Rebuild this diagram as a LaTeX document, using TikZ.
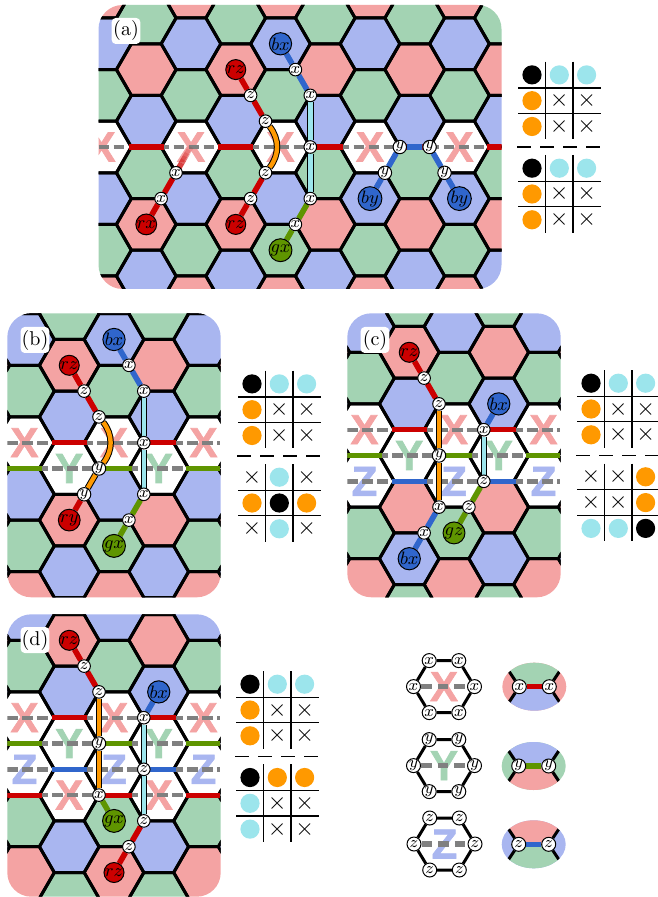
\documentclass[tikz,border=0pt]{standalone}
\usepackage{xcolor}
\usepackage{fontspec}
\newfontfamily\letterfont[BoldFeatures={FakeBold=1.5}]{Liberation Sans}
\usetikzlibrary{calc}
\definecolor{hexc0}{HTML}{F4A3A3}
\definecolor{hexc1}{HTML}{A9B6F0}
\definecolor{hexc2}{HTML}{A3D3B3}
\definecolor{strred}{HTML}{CC0000}
\definecolor{strgreen}{HTML}{5F9500}
\definecolor{strblue}{HTML}{3066CC}
\definecolor{strorange}{HTML}{FF9900}
\definecolor{strcyan}{HTML}{9CE5EC}
\definecolor{rowgray}{HTML}{808080}
\pgfdeclarelayer{lattice}
\pgfdeclarelayer{strings}
\pgfsetlayers{lattice,strings,main}
\tikzset{
  hexedge/.style={draw=black,line width=1.5pt,line join=round},
  rowdash/.style={rowgray,line width=2.2pt,dash pattern=on 5.2pt off 2.3pt},
  stripe/.style={line width=2.6pt},
  plainstr/.style={line width=2.8pt},
  twostr/.style={draw=black,line width=.5pt,double distance=2.2pt},
  site/.style={circle,draw=black,line width=.5pt,fill=white,inner sep=0pt,minimum size=6.3pt,font=\footnotesize},
  bigsite/.style={circle,draw=black,line width=.5pt,inner sep=0pt,minimum size=10pt,font=\fontsize{8.8}{8.8}\selectfont},
  legendsite/.style={site,minimum size=7pt},
  hexletter/.style={inner sep=0pt,font=\fontsize{21}{21}\selectfont\letterfont\bfseries},
  paneltag/.style={fill=white,rounded corners=2pt,inner sep=0pt,minimum width=14.3pt,minimum height=13pt},
  tableline/.style={black,line width=.65pt},
  tabledash/.style={black,line width=.65pt,dash pattern=on 7pt off 4.5pt},
  cellK/.style={circle,fill=black,inner sep=0pt,minimum size=9.6pt},
  cellC/.style={circle,fill=strcyan,inner sep=0pt,minimum size=9.6pt},
  cellO/.style={circle,fill=strorange,inner sep=0pt,minimum size=9.6pt},
  cellX/.style={inner sep=0pt,font=\large,execute at begin node={$\times$}},
}
\newcommand{\hexcell}[1]{\path[#1] (\cx+29.8,\cy) -- ++(-14.9,25.8) -- ++(-29.8,0) -- ++(-14.9,-25.8) -- ++(14.9,-25.8) -- ++(29.8,0) -- cycle;}
% x0, y0, left, top, right, bottom, number of open rows
\newcommand{\hexlattice}[7]{%
  \begin{pgfonlayer}{lattice}
  \begin{scope}
    \clip[rounded corners=12pt] (#3,#4) rectangle (#5,#6);
    \foreach \j in {-4,...,8} \foreach \m in {-4,...,4} {
      \pgfmathtruncatemacro\hp{mod(\j+100,2)}
      \pgfmathtruncatemacro\hn{2*\m+\hp}
      \pgfmathtruncatemacro\hc{mod(\m+2*\hp+30,3)}
      \pgfmathsetmacro\cx{#1+\j*44.75}
      \pgfmathsetmacro\cy{#2+\hn*25.8}
      \pgfmathtruncatemacro\hopen{(\hn>-1)&&(\hn<#7)}
      \ifnum\hopen=1
        \hexcell{fill=white}
        \node[hexletter,text=hexc\hc] (let-\j-\m) at (\cx,\cy) {\ifcase\hc X\or Z\or Y\fi};
      \else
        \hexcell{fill=hexc\hc}
      \fi
    }
    \foreach \j in {-4,...,8} \foreach \m in {-4,...,4} {
      \pgfmathtruncatemacro\hp{mod(\j+100,2)}
      \pgfmathtruncatemacro\hn{2*\m+\hp}
      \pgfmathsetmacro\cx{#1+\j*44.75}
      \pgfmathsetmacro\cy{#2+\hn*25.8}
      \hexcell{hexedge}
    }
    \pgfmathtruncatemacro\rowlast{#7-1}
    \foreach \r in {0,...,\rowlast} {
      \pgfmathsetmacro\cy{#2+\r*25.8}
      \draw[rowdash] (#3,\cy) -- (#5,\cy);
      \pgfmathtruncatemacro\rk{mod(\r,3)}
      \foreach \j in {-5,...,9} {
        \pgfmathtruncatemacro\odd{mod(\j+\r+100,2)}
        \ifnum\odd=1
          \pgfmathsetmacro\cx{#1+\j*44.75}
          \draw[stripe,draw=\ifcase\rk strred\or strgreen\else strblue\fi] (\cx-17.5,\cy) -- (\cx+17.5,\cy);
        \fi
      }
    }
  \end{scope}
  \end{pgfonlayer}}
% name, centre x, centre y, cells
\newcommand{\statetable}[4]{%
  \draw[tableline] (#2-13.65,#3-39) -- (#2-13.65,#3+38.6);
  \draw[tableline] (#2+13.65,#3-39) -- (#2+13.65,#3+38.6);
  \draw[tableline] (#2-41,#3-12.8) -- (#2+41.4,#3-12.8);
  \draw[tableline] (#2-41,#3+12.8) -- (#2+41.4,#3+12.8);
  \foreach \c [count=\i from 0] in {#4} {
    \pgfmathtruncatemacro\tc{mod(\i,3)-1}
    \pgfmathtruncatemacro\tr{int(\i/3)-1}
    \node[cell\c] (#1-\i) at (#2+\tc*27.3,#3+\tr*25.8) {};
  }}
% name, centre x, centre y, letter, letter colour, site label
\newcommand{\legendhex}[6]{%
  \begin{pgfonlayer}{lattice}
    \node[hexletter,text=#5] (#1let) at (#2,#3) {#4};
  \end{pgfonlayer}
  \node[legendsite] (#1a) at (#2+30.5,#3) {$#6$};
  \node[legendsite] (#1b) at (#2+14.8,#3-26) {$#6$};
  \node[legendsite] (#1c) at (#2-14.8,#3-26) {$#6$};
  \node[legendsite] (#1d) at (#2-30.5,#3) {$#6$};
  \node[legendsite] (#1e) at (#2-14.8,#3+26) {$#6$};
  \node[legendsite] (#1f) at (#2+14.8,#3+26) {$#6$};
  \begin{pgfonlayer}{strings}
    \draw[hexedge] (#1a) -- (#1b) -- (#1c) -- (#1d) -- (#1e) -- (#1f) -- (#1a);
    \draw[rowgray,line width=2.8pt,dash pattern=on 5.3pt off 3pt] (#1d) -- (#1a);
  \end{pgfonlayer}}
% name, centre x, centre y, top, bottom, sides, bond colour, site label
\newcommand{\legendpatch}[8]{%
  \node[legendsite] (#1l) at (#2-15,#3) {$#8$};
  \node[legendsite] (#1r) at (#2+15,#3) {$#8$};
  \begin{pgfonlayer}{strings}
  \begin{scope}
    \clip (#2,#3) ellipse [x radius=32,y radius=24];
    \fill[#6] (#2-40,#3-30) rectangle (#2+40,#3+30);
    \fill[#4] (#2-15,#3) -- (#2-35,#3-30) -- (#2+35,#3-30) -- (#2+15,#3) -- cycle;
    \fill[#5] (#2-15,#3) -- (#2-35,#3+30) -- (#2+35,#3+30) -- (#2+15,#3) -- cycle;
    \coordinate (#1p) at (#2-35,#3-30);
    \coordinate (#1q) at (#2-35,#3+30);
    \coordinate (#1s) at (#2+35,#3-30);
    \coordinate (#1t) at (#2+35,#3+30);
    \draw[hexedge] (#1p) -- (#1l) -- (#1q);
    \draw[hexedge] (#1s) -- (#1r) -- (#1t);
    \draw[stripe,#7] (#1l) -- (#1r);
  \end{scope}
  \end{pgfonlayer}}
\begin{document}
\begin{tikzpicture}[x=.5pt,y=-.5pt]
  \useasboundingbox (0,0) rectangle (657,897);

  % Panel (a)
  \hexlattice{191}{147}{98.5}{5}{501.5}{289}{1}
  \node[paneltag] (taga) at (126,31) {(a)};
  \node[bigsite,fill=strred] (arz1) at (235.75,69.6) {$rz$};
  \node[site] (az1) at (250.6,95.4) {$z$};
  \node[site] (az2) at (265.5,121.2) {$z$};
  \node[site] (az3) at (265.5,172.8) {$z$};
  \node[site] (az4) at (250.6,198.6) {$z$};
  \node[bigsite,fill=strred] (arz2) at (235.75,224.4) {$rz$};
  \node[bigsite,fill=strblue] (abx) at (280.5,43.8) {$bx$};
  \node[site] (ax1) at (295.4,69.6) {$x$};
  \node[site] (ax2) at (310.3,95.4) {$x$};
  \node[site] (ax3) at (310.3,147) {$x$};
  \node[site] (ax4) at (310.3,198.6) {$x$};
  \node[site] (ax5) at (295.4,224.4) {$x$};
  \node[bigsite,fill=strgreen] (agx) at (280.5,250.2) {$gx$};
  \node[bigsite,fill=strred] (arx) at (146.25,224.4) {$rx$};
  \node[site] (ax6) at (161.1,198.6) {$x$};
  \node[site] (ax7) at (176,172.8) {$x$};
  \coordinate (afade) at (190.9,147);
  \node[bigsite,fill=strblue] (aby1) at (370,198.6) {$by$};
  \node[site] (ay1) at (384.9,172.8) {$y$};
  \node[site] (ay2) at (399.8,147) {$y$};
  \node[site] (ay3) at (429.6,147) {$y$};
  \node[site] (ay4) at (444.5,172.8) {$y$};
  \node[bigsite,fill=strblue] (aby2) at (459.4,198.6) {$by$};
  \begin{pgfonlayer}{strings}
    \draw[plainstr,strred] (arz1) -- (az1) -- (az2);
    \draw[plainstr,strred] (az3) -- (az4) -- (arz2);
    \draw[twostr,double=strorange] (az2) to[bend left=38] (az3);
    \draw[plainstr,strblue] (abx) -- (ax1) -- (ax2);
    \draw[twostr,double=strcyan] (ax2) -- (ax3) -- (ax4);
    \draw[plainstr,strgreen] (ax4) -- (ax5) -- (agx);
    \draw[plainstr,strred] (arx) -- (ax6) -- (ax7);
    \foreach \t in {0,...,7}
      \draw[plainstr,strred,opacity=1-\t/8] ($(ax7)!\t/8!(afade)$) -- ($(ax7)!\t/8+0.125!(afade)$);
    \draw[plainstr,strblue] (aby1) -- (ay1) -- (ay2) -- (ay3) -- (ay4) -- (aby2);
  \end{pgfonlayer}
  \statetable{ta1}{559.3}{100.7}{K,C,C,O,X,X,O,X,X}
  \draw[tabledash] (517.3,147) -- (601.7,147);
  \statetable{ta2}{559.3}{194}{K,C,C,O,X,X,O,X,X}

  % Panel (b)
  \hexlattice{24.5}{442.7}{7.3}{313.3}{220.7}{597.3}{2}
  \node[paneltag] (tagb) at (35,340) {(b)};
  \node[bigsite,fill=strred] (brz) at (69.25,365.3) {$rz$};
  \node[site] (bz1) at (84.1,391.1) {$z$};
  \node[site] (bz2) at (99,416.9) {$z$};
  \node[site] (by1) at (99,468.5) {$y$};
  \node[site] (by2) at (84.1,494.3) {$y$};
  \node[bigsite,fill=strred] (bry) at (69.25,520.1) {$ry$};
  \node[bigsite,fill=strblue] (bbx) at (114,339.5) {$bx$};
  \node[site] (bx1) at (128.9,365.3) {$x$};
  \node[site] (bx2) at (143.8,391.1) {$x$};
  \node[site] (bx3) at (143.8,442.7) {$x$};
  \node[site] (bx4) at (143.8,494.3) {$x$};
  \node[site] (bx5) at (128.9,520.1) {$x$};
  \node[bigsite,fill=strgreen] (bgx) at (114,545.9) {$gx$};
  \begin{pgfonlayer}{strings}
    \draw[plainstr,strred] (brz) -- (bz1) -- (bz2);
    \draw[twostr,double=strorange] (bz2) to[bend left=38] (by1);
    \draw[twostr,double=strorange] (by1) -- (by2);
    \draw[plainstr,strred] (by2) -- (bry);
    \draw[plainstr,strblue] (bbx) -- (bx1) -- (bx2);
    \draw[twostr,double=strcyan] (bx2) -- (bx3) -- (bx4);
    \draw[plainstr,strgreen] (bx4) -- (bx5) -- (bgx);
  \end{pgfonlayer}
  \statetable{tb1}{279.3}{409.7}{K,C,C,O,X,X,O,X,X}
  \draw[tabledash] (237.3,456) -- (321.7,456);
  \statetable{tb2}{279.3}{503}{X,C,X,O,K,O,X,C,X}

  % Panel (c)
  \hexlattice{364.5}{429.7}{347.3}{313.3}{560.7}{597.3}{3}
  \node[paneltag] (tagc) at (375,340) {(c)};
  \node[bigsite,fill=strred] (crz) at (409.25,352.3) {$rz$};
  \node[site] (cz1) at (424.1,378.1) {$z$};
  \node[site] (cz2) at (439,403.9) {$z$};
  \node[site] (cy1) at (439,455.5) {$y$};
  \node[site] (cx1) at (439,507.1) {$x$};
  \node[site] (cx2) at (424.1,532.9) {$x$};
  \node[bigsite,fill=strblue] (cbx1) at (409.25,558.7) {$bx$};
  \node[bigsite,fill=strblue] (cbx2) at (498.75,403.9) {$bx$};
  \node[site] (cx3) at (483.8,429.7) {$x$};
  \node[site] (cz3) at (483.8,481.3) {$z$};
  \node[site] (cz4) at (468.9,507.1) {$z$};
  \node[bigsite,fill=strgreen] (cgz) at (454,532.9) {$gz$};
  \begin{pgfonlayer}{strings}
    \draw[plainstr,strred] (crz) -- (cz1) -- (cz2);
    \draw[twostr,double=strorange] (cz2) -- (cy1) -- (cx1);
    \draw[plainstr,strblue] (cx1) -- (cx2) -- (cbx1);
    \draw[plainstr,strblue] (cbx2) -- (cx3);
    \draw[twostr,double=strcyan] (cx3) -- (cz3);
    \draw[plainstr,strgreen] (cz3) -- (cz4) -- (cgz);
  \end{pgfonlayer}
  \statetable{tc1}{618.3}{409}{K,C,C,O,X,X,O,X,X}
  \draw[tabledash] (576.3,455.3) -- (660.7,455.3);
  \statetable{tc2}{618.3}{502.6}{X,X,O,X,X,O,C,C,K}

  % Panel (d)
  \hexlattice{24.5}{717.7}{7.3}{614.3}{220.7}{896.7}{4}
  \node[paneltag] (tagd) at (35,640) {(d)};
  \node[bigsite,fill=strred] (drz1) at (69.25,640.3) {$rz$};
  \node[site] (dz1) at (84.1,666.1) {$z$};
  \node[site] (dz2) at (99,691.9) {$z$};
  \node[site] (dy1) at (99,743.5) {$y$};
  \node[site] (dx1) at (99,795.1) {$x$};
  \node[bigsite,fill=strgreen] (dgx) at (114,820.9) {$gx$};
  \node[bigsite,fill=strblue] (dbx) at (158.75,691.9) {$bx$};
  \node[site] (dx2) at (143.8,717.7) {$x$};
  \node[site] (dz3) at (143.8,769.3) {$z$};
  \node[site] (dz4) at (143.8,820.9) {$z$};
  \node[site] (dz5) at (128.9,846.7) {$z$};
  \node[bigsite,fill=strred] (drz2) at (114,872.5) {$rz$};
  \begin{pgfonlayer}{strings}
    \draw[plainstr,strred] (drz1) -- (dz1) -- (dz2);
    \draw[twostr,double=strorange] (dz2) -- (dy1) -- (dx1);
    \draw[plainstr,strgreen] (dx1) -- (dgx);
    \draw[plainstr,strblue] (dbx) -- (dx2);
    \draw[twostr,double=strcyan] (dx2) -- (dz3) -- (dz4);
    \draw[plainstr,strred] (dz4) -- (dz5) -- (drz2);
  \end{pgfonlayer}
  \statetable{td1}{277.3}{710}{K,C,C,O,X,X,O,X,X}
  \draw[tabledash] (235.3,756.4) -- (319.7,756.4);
  \statetable{td2}{277.3}{803.3}{K,O,O,C,X,X,C,X,X}

  % Legend
  \legendhex{lx}{444}{686.6}{X}{hexc0}{x}
  \legendhex{ly}{444}{765.6}{Y}{hexc2}{y}
  \legendhex{lz}{444.5}{844}{Z}{hexc1}{z}
  \legendpatch{px}{534.3}{686.7}{hexc2}{hexc1}{hexc0}{strred}{x}
  \legendpatch{py}{533.7}{766}{hexc1}{hexc0}{hexc2}{strgreen}{y}
  \legendpatch{pz}{533.7}{844.3}{hexc0}{hexc2}{hexc1}{strblue}{z}
\end{tikzpicture}
\end{document}
